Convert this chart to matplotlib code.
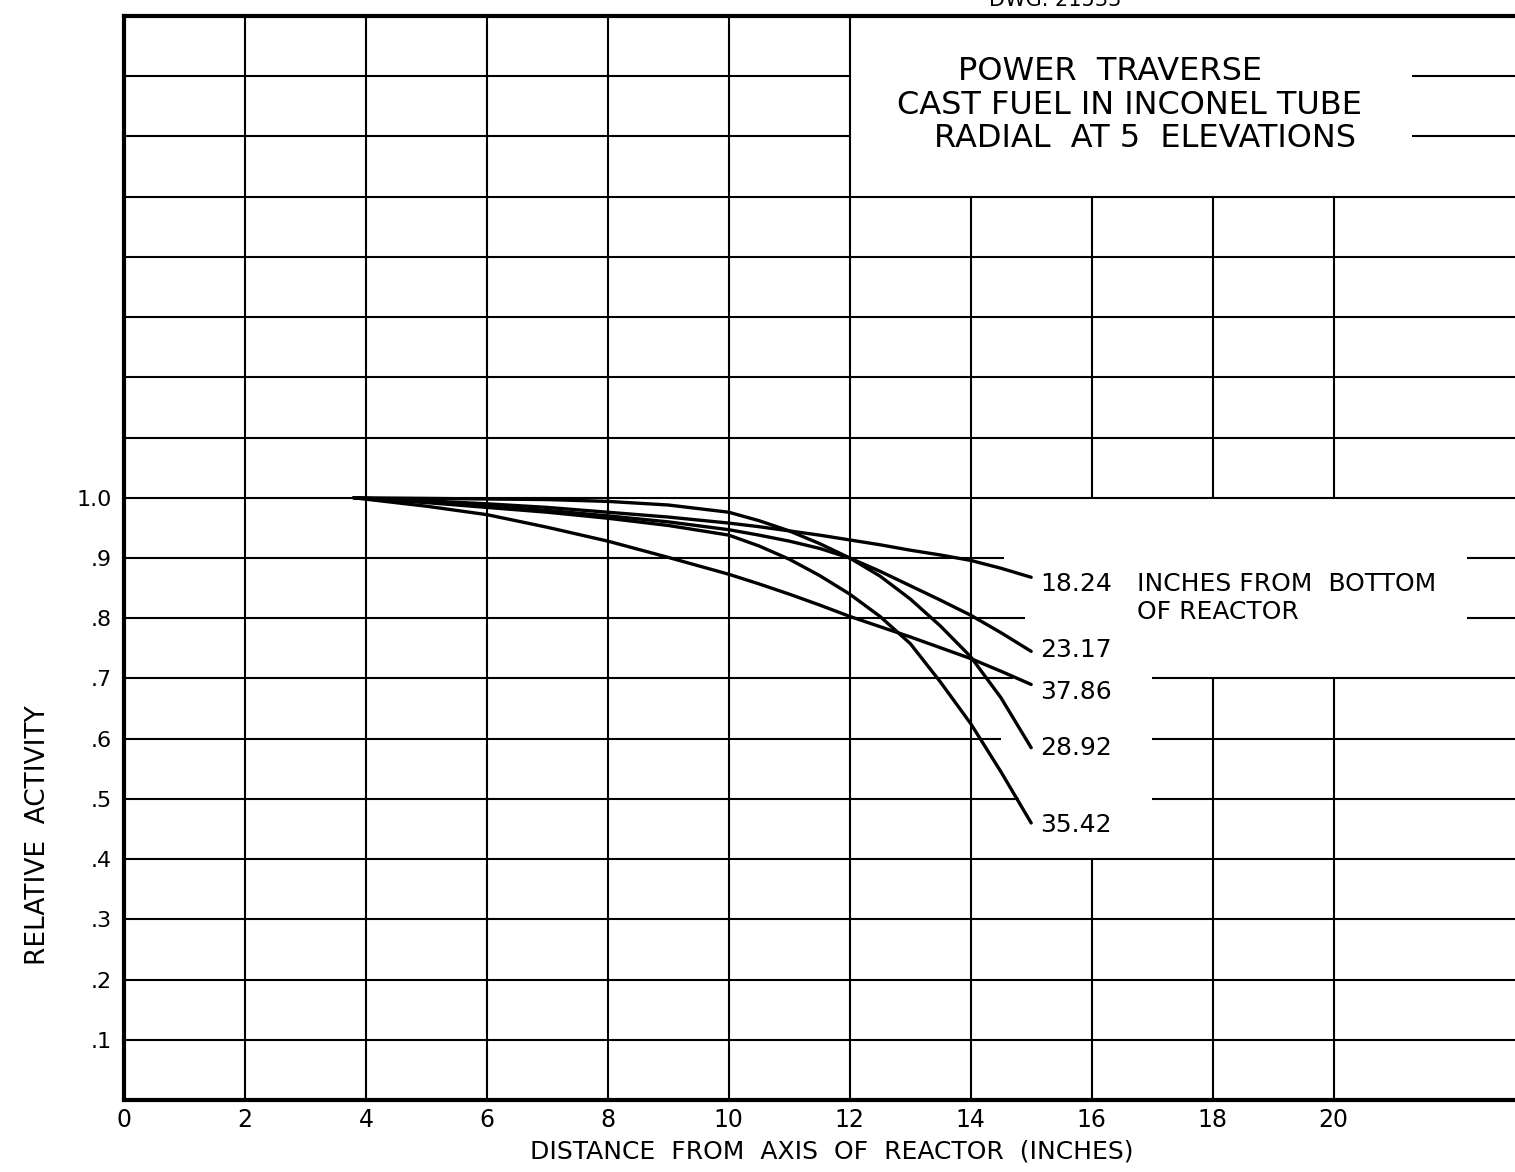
import numpy as np
import matplotlib
matplotlib.use("Agg")
import matplotlib.pyplot as plt

# radial traverse, relative activity vs distance from reactor axis
dist = [3.8, 5, 6, 7, 8, 9, 10, 10.5, 11, 11.5, 12, 12.5, 13, 13.5, 14, 14.5, 15]
elev_18_24 = [1.0, 0.995, 0.990, 0.984, 0.976, 0.968, 0.958, 0.952, 0.945, 0.938,
              0.930, 0.922, 0.913, 0.905, 0.896, 0.883, 0.868]
elev_23_17 = [1.0, 0.993, 0.986, 0.979, 0.970, 0.960, 0.947, 0.938, 0.928, 0.916,
              0.900, 0.878, 0.854, 0.830, 0.805, 0.776, 0.745]
elev_28_92 = [1.0, 0.999, 0.998, 0.997, 0.994, 0.988, 0.976, 0.962, 0.945, 0.924,
              0.900, 0.870, 0.832, 0.787, 0.736, 0.668, 0.585]
elev_35_42 = [1.0, 0.992, 0.984, 0.976, 0.966, 0.954, 0.938, 0.920, 0.898, 0.871,
              0.840, 0.803, 0.758, 0.694, 0.625, 0.545, 0.460]
elev_37_86 = [1.0, 0.986, 0.972, 0.951, 0.928, 0.901, 0.873, 0.857, 0.840, 0.822,
              0.803, 0.786, 0.769, 0.751, 0.733, 0.712, 0.690]

curve_labels = ["18.24", "23.17", "37.86", "28.92", "35.42"]
curves = [elev_18_24, elev_23_17, elev_37_86, elev_28_92, elev_35_42]
label_dy = [-0.012, 0.002, -0.012, 0.0, -0.004]

xticks = [0, 2, 4, 6, 8, 10, 12, 14, 16, 18, 20]
yticks = [0.1, 0.2, 0.3, 0.4, 0.5, 0.6, 0.7, 0.8, 0.9, 1.0]
ytick_labels = [".1", ".2", ".3", ".4", ".5", ".6", ".7", ".8", ".9", "1.0"]

title_lines = ["POWER  TRAVERSE", "CAST FUEL IN INCONEL TUBE", "RADIAL  AT 5  ELEVATIONS"]

plt.rcParams['font.family'] = ['DejaVu Sans']

W, H = 1515, 1172
fig = plt.figure(figsize=(W / 100, H / 100), dpi=100)
ax = fig.add_axes([124 / W, 1 - 1100 / H, 1 - 124 / W, (1100 - 16) / H])
ax.set_xlim(0, 23)
ax.set_ylim(0, 1.8)

glw = 1.5
# horizontal grid, some lines broken where the text blocks sit
full_h = [0.1, 0.2, 0.3, 0.4, 1.0, 1.1, 1.2, 1.3, 1.4, 1.5]
ax.hlines(full_h, 0, 23, color='black', lw=glw)
for y in [1.6, 1.7]:
    ax.hlines(y, 0, 12, color='black', lw=glw)
    ax.hlines(y, 21.3, 23, color='black', lw=glw)
for y, xe in [(0.9, 14.55), (0.8, 14.9)]:
    ax.hlines(y, 0, xe, color='black', lw=glw)
    ax.hlines(y, 22.2, 23, color='black', lw=glw)
for y, xe in [(0.7, 14.7), (0.6, 14.5), (0.5, 14.8)]:
    ax.hlines(y, 0, xe, color='black', lw=glw)
    ax.hlines(y, 17.0, 23, color='black', lw=glw)

# vertical grid
ax.vlines([2, 4, 6, 8, 10, 12], 0, 1.8, color='black', lw=glw)
ax.vlines(14, 0, 1.5, color='black', lw=glw)
ax.vlines(16, 0, 0.4, color='black', lw=glw)
ax.vlines([16, 18, 20], 1.0, 1.5, color='black', lw=glw)
ax.vlines([18, 20], 0, 0.7, color='black', lw=glw)

for ys, lab, dy in zip(curves, curve_labels, label_dy):
    ax.plot(dist, ys, color='black', lw=2.4, solid_capstyle='round',
            solid_joinstyle='round')
    ax.text(dist[-1] + 0.15, ys[-1] + dy, lab, fontsize=18, va='center', ha='left')

ax.text(16.75, elev_18_24[-1] - 0.012, "INCHES FROM  BOTTOM", fontsize=18,
        va='center', ha='left')
ax.text(16.75, elev_18_24[-1] - 0.058, "OF REACTOR", fontsize=18,
        va='center', ha='left')

for i, (line, xc) in enumerate(zip(title_lines, [16.3, 16.63, 16.88])):
    ax.text(xc, 1.708 - 0.056 * i, line, fontsize=23, ha='center', va='center')

for side in ['left', 'bottom', 'top']:
    ax.spines[side].set_linewidth(3)
ax.spines['right'].set_visible(False)

ax.set_xticks(xticks)
ax.set_xticklabels([str(t) for t in xticks], fontsize=17)
ax.set_yticks(yticks)
ax.set_yticklabels(ytick_labels, fontsize=16)
ax.tick_params(axis='both', length=0)
ax.tick_params(axis='x', pad=6)
ax.tick_params(axis='y', pad=9)

fig.text(832 / W, 1 - 1152 / H, "DISTANCE  FROM  AXIS  OF  REACTOR  (INCHES)",
         fontsize=18, ha='center', va='center')
fig.text(38 / W, 1 - 835 / H, "RELATIVE  ACTIVITY", fontsize=19, rotation=90,
         ha='center', va='center')
fig.text(1055 / W, 1.0, "DWG. 21533", fontsize=15, ha='center', va='center')

fig.savefig("out.png", dpi=100, facecolor='white')
